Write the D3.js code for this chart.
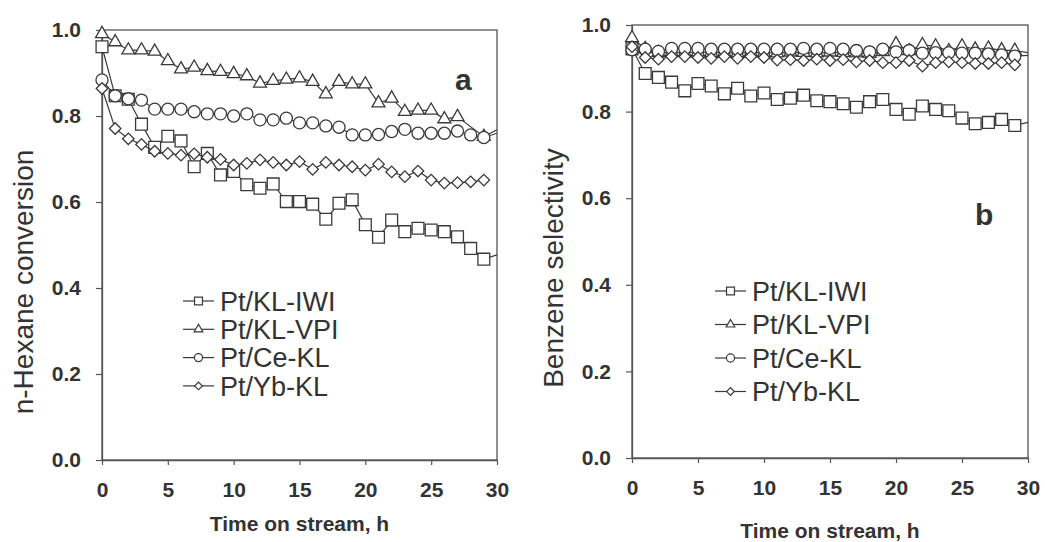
<!DOCTYPE html>
<html>
<head>
<meta charset="utf-8">
<script src="https://cdn.jsdelivr.net/npm/d3@7"></script>
<style>
  body { margin: 0; background: #fff; }
  svg { font-family: "Liberation Sans", Arial, sans-serif; }
</style>
</head>
<body>
<svg id="chart" width="1045" height="542"></svg>
<script>
// time on stream, hours
const hours = d3.range(0, 31);

const seriesNames = ["Pt/KL-IWI", "Pt/KL-VPI", "Pt/Ce-KL", "Pt/Yb-KL"];
const xTicks = [0, 5, 10, 15, 20, 25, 30];
const yTicks = [0, 0.2, 0.4, 0.6, 0.8, 1.0];

// panel a: n-hexane conversion (null = no point)
const iwiConv = [0.961, 0.847, 0.839, 0.781, 0.727, 0.753, 0.742, 0.682, 0.713, 0.663,
  0.671, 0.640, 0.632, 0.642, 0.601, 0.601, 0.595, 0.560, 0.597, 0.605,
  0.547, 0.518, 0.558, 0.531, 0.539, 0.535, 0.531, 0.519, 0.492, 0.467, 0.477];
const vpiConv = [0.991, 0.972, 0.953, 0.953, 0.950, 0.928, 0.909, 0.913, 0.905, 0.903,
  0.898, 0.893, 0.876, 0.882, 0.885, 0.888, 0.880, 0.851, 0.880, 0.874,
  0.874, 0.830, 0.841, 0.810, 0.813, 0.813, 0.793, 0.798, null, 0.752, 0.768];
const ceConv = [0.884, 0.847, 0.840, 0.837, 0.816, 0.816, 0.816, 0.810, 0.805, 0.805,
  0.800, 0.805, 0.791, 0.791, 0.795, 0.784, 0.784, 0.777, 0.774, 0.756,
  0.756, 0.757, 0.764, 0.769, 0.760, 0.760, 0.760, 0.765, 0.756, 0.750, 0.760];
const ybConv = [0.864, 0.771, 0.747, 0.734, 0.718, 0.713, 0.709, 0.712, 0.704, 0.699,
  0.686, 0.690, 0.698, 0.692, 0.686, 0.694, 0.676, 0.692, 0.686, 0.682,
  0.674, 0.688, 0.670, 0.659, 0.672, 0.651, 0.644, 0.645, 0.647, 0.651, null];

// panel b: benzene selectivity
const iwiSel = [0.945, 0.888, 0.879, 0.868, 0.848, 0.865, 0.859, 0.841, 0.854, 0.836,
  0.843, 0.828, 0.831, 0.838, 0.825, 0.823, 0.818, 0.810, 0.823, 0.828,
  0.805, 0.794, 0.813, 0.805, 0.802, 0.785, 0.772, 0.775, 0.782, 0.768, 0.775];
const vpiSel = [0.970, 0.945, 0.936, 0.937, 0.936, 0.938, 0.936, 0.937, 0.935, 0.937,
  0.936, 0.935, 0.937, 0.936, 0.935, 0.937, 0.936, 0.935, 0.934, 0.938,
  0.956, 0.940, 0.954, 0.951, 0.940, 0.951, 0.944, 0.946, 0.942, 0.941, 0.936];
const ceSel = [0.943, 0.944, 0.939, 0.946, 0.946, 0.946, 0.944, 0.944, 0.944, 0.944,
  0.944, 0.944, 0.944, 0.946, 0.944, 0.946, 0.944, 0.941, 0.938, 0.944,
  0.938, 0.941, 0.935, 0.936, 0.936, 0.935, 0.935, 0.933, 0.931, 0.928, 0.930];
const ybSel = [0.950, 0.925, 0.921, 0.927, 0.927, 0.925, 0.923, 0.927, 0.923, 0.927,
  0.925, 0.919, 0.920, 0.918, 0.921, 0.918, 0.920, 0.915, 0.918, 0.913,
  0.913, 0.918, 0.905, 0.913, 0.915, 0.913, 0.911, 0.911, 0.913, 0.908, null];

const ink = "#3a3a3a";
const svg = d3.select("#chart");

// marker shapes, one per series
const symbolTypes = [d3.symbolSquare, d3.symbolTriangle, d3.symbolCircle, d3.symbolSquare];
const symbolSizes = [140, 72, 115, 66];
const symbolRotate = [0, 0, 0, 45];

function drawPanel(p) {
  const g = svg.append("g");
  const x = d3.scaleLinear().domain([0, 30]).range([p.left, p.right]);
  const y = d3.scaleLinear().domain([0, 1]).range([p.bottom, p.top]);

  // frame
  g.append("rect")
    .attr("x", p.left).attr("y", p.top)
    .attr("width", p.right - p.left).attr("height", p.bottom - p.top)
    .attr("fill", "none").attr("stroke", "#555").attr("stroke-width", 1.3);

  const xAxis = g.append("g")
    .attr("transform", "translate(0," + p.bottom + ")")
    .call(d3.axisBottom(x).tickValues(xTicks).tickSize(5).tickSizeOuter(0).tickPadding(17));
  const yAxis = g.append("g")
    .attr("transform", "translate(" + p.left + ",0)")
    .call(d3.axisLeft(y).tickValues(yTicks).tickFormat(d3.format(".1f")).tickSize(6).tickSizeOuter(0).tickPadding(15));
  [xAxis, yAxis].forEach(function(a) {
    a.select(".domain").attr("stroke", "#555").attr("stroke-width", 1.3);
    a.selectAll(".tick line").attr("stroke", "#555").attr("stroke-width", 1.2);
    a.selectAll(".tick text")
      .attr("fill", "#333").attr("font-size", 21).attr("font-weight", "bold")
      .attr("font-family", "'Liberation Sans', Arial, sans-serif");
  });

  // axis titles
  g.append("text")
    .attr("x", (p.left + p.right) / 2).attr("y", p.xTitleY)
    .attr("text-anchor", "middle").attr("font-size", 21).attr("font-weight", "bold")
    .attr("fill", "#333").text("Time on stream, h");
  g.append("text")
    .attr("transform", "translate(" + p.yTitleX + "," + p.yTitleMid + ") rotate(-90)")
    .attr("text-anchor", "middle").attr("font-size", 28)
    .attr("fill", "#333").text(p.yTitle);

  // panel letter
  g.append("text")
    .attr("x", p.letterX).attr("y", p.letterY)
    .attr("font-size", 30).attr("font-weight", "bold").attr("fill", "#333")
    .text(p.letter);

  const line = d3.line()
    .x(function(d) { return x(d.t); })
    .y(function(d) { return y(d.v); });

  p.series.forEach(function(vals, i) {
    const pts = hours
      .map(function(t, k) { return { t: t, v: vals[k] }; })
      .filter(function(d) { return d.v != null; });

    g.append("path")
      .datum(pts)
      .attr("d", line)
      .attr("fill", "none").attr("stroke", ink).attr("stroke-width", 1.2);

    const sym = d3.symbol().type(symbolTypes[i]).size(symbolSizes[i]);
    g.append("g")
      .selectAll("path")
      .data(pts.filter(function(d) { return d.t < 30; }))
      .enter()
      .append("path")
      .attr("d", sym)
      .attr("transform", function(d) {
        return "translate(" + x(d.t) + "," + y(d.v) + ") rotate(" + symbolRotate[i] + ")";
      })
      .attr("fill", "#fff").attr("stroke", ink).attr("stroke-width", 1.3);
  });

  // legend
  const leg = g.append("g");
  seriesNames.forEach(function(name, i) {
    const ly = p.legY + i * p.legStep;
    leg.append("line")
      .attr("x1", p.legX).attr("x2", p.legX + 31)
      .attr("y1", ly).attr("y2", ly)
      .attr("stroke", ink).attr("stroke-width", 1.2);
    leg.append("path")
      .attr("d", d3.symbol().type(symbolTypes[i]).size(symbolSizes[i] * 0.45))
      .attr("transform", "translate(" + (p.legX + 15.5) + "," + ly + ") rotate(" + symbolRotate[i] + ")")
      .attr("fill", "#fff").attr("stroke", ink).attr("stroke-width", 1.2);
    leg.append("text")
      .attr("x", p.legX + 37).attr("y", ly)
      .attr("dy", "0.36em").attr("font-size", p.legFont)
      .attr("fill", "#333").text(name);
  });
}

drawPanel({
  left: 102, right: 497, top: 30, bottom: 460,
  xTitleY: 531, yTitleX: 33, yTitleMid: 282, yTitle: "n-Hexane conversion",
  letter: "a", letterX: 455, letterY: 90,
  series: [iwiConv, vpiConv, ceConv, ybConv],
  legX: 183, legY: 301, legStep: 28.3, legFont: 27
});

drawPanel({
  left: 632, right: 1028, top: 25, bottom: 458,
  xTitleY: 538, yTitleX: 563, yTitleMid: 268, yTitle: "Benzene selectivity",
  letter: "b", letterX: 975, letterY: 225,
  series: [iwiSel, vpiSel, ceSel, ybSel],
  legX: 715, legY: 291, legStep: 33.5, legFont: 27
});
</script>
</body>
</html>
